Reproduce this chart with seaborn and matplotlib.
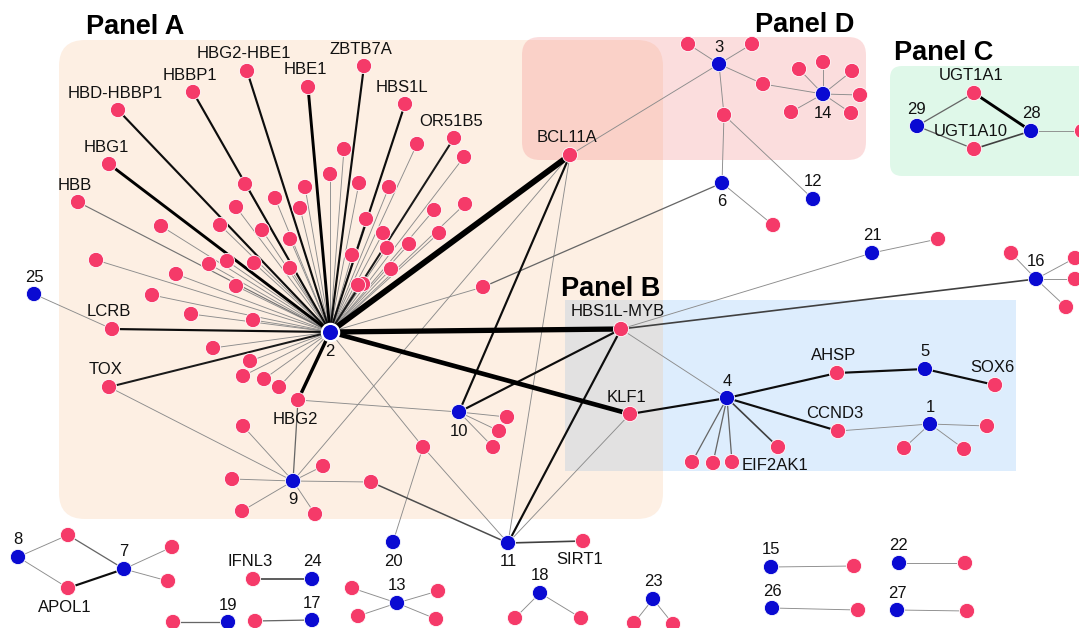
import matplotlib
matplotlib.use("Agg")
import matplotlib.pyplot as plt
import pandas as pd
import seaborn as sns
from matplotlib.patches import FancyBboxPatch, Rectangle

sns.set_theme(style="white")
plt.rcParams["font.family"] = ["Liberation Sans", "DejaVu Sans"]

# ---- cluster (module) nodes, numbered 1..29 -------------------------------
cluster_ids = [str(i) for i in range(1, 30)]
cluster_x = [930, 330, 719, 727, 925, 722, 124, 18, 293, 459, 508, 813, 397, 823, 771,
             1036, 312, 540, 228, 393, 872, 899, 653, 312, 34, 772, 897, 1031, 917]
cluster_y = [424, 332, 64, 398, 369, 183, 569, 557, 481, 412, 543, 199, 603, 94, 567,
             279, 620, 593, 622, 542, 253, 563, 599, 579, 294, 608, 610, 131, 126]
cluster_label_below = ["2", "9", "10", "11", "20", "6", "14"]

# ---- named gene nodes -----------------------------------------------------
gene_names = ["HBD-HBBP1", "HBBP1", "HBG2-HBE1", "HBE1", "ZBTB7A", "HBS1L", "OR51B5",
              "HBG1", "HBB", "BCL11A", "LCRB", "TOX", "HBG2", "HBS1L-MYB", "KLF1",
              "AHSP", "SOX6", "CCND3", "EIF2AK1", "UGT1A1", "UGT1A10", "IFNL3",
              "APOL1", "SIRT1"]
gene_x = [118, 193, 247, 308, 364, 405, 454, 109, 78, 570, 112, 109, 298, 621, 630,
          837, 995, 838, 778, 974, 974, 253, 68, 583]
gene_y = [110, 92, 71, 87, 66, 104, 138, 164, 202, 155, 329, 387, 400, 329, 414,
          373, 385, 431, 447, 93, 149, 579, 588, 541]
gene_label_below = ["HBG2", "EIF2AK1", "APOL1", "SIRT1"]

# ---- unnamed genes shared by several modules ------------------------------
bridge_ids = ["b1", "b2", "b3", "b4", "b5", "b6"]
bridge_x = [423, 483, 724, 763, 371, 68]
bridge_y = [447, 287, 115, 84, 482, 535]

# ---- unnamed genes attached to a single module ----------------------------
leaf_hub = (["2"] * 41 + ["9"] * 5 + ["10"] * 3 + ["3"] * 2 + ["14"] * 6 + ["6"]
            + ["4"] * 3 + ["1"] * 3 + ["16"] * 4 + ["21", "28"] + ["7"] * 2
            + ["19", "17"] + ["13"] * 4 + ["18"] * 2 + ["23"] * 2
            + ["15", "22", "26", "27"])
leaf_x = [245, 275, 305, 300, 330, 344, 236, 359, 220, 262, 290, 352, 227, 209, 254,
          290, 161, 96, 176, 236, 152, 191, 253, 213, 250, 243, 264, 279, 417, 464,
          389, 434, 465, 366, 383, 439, 387, 409, 391, 363, 358,
          243, 323, 232, 242, 315,
          507, 499, 493,
          688, 752,
          799, 823, 852, 860, 851, 791,
          773,
          692, 713, 732,
          987, 904, 964,
          1011, 1075, 1075, 1066,
          938, 1082,
          172, 168,
          173, 255,
          352, 358, 438, 436,
          515, 581,
          634, 673,
          854, 965, 858, 967]
leaf_y = [184, 198, 187, 208, 174, 149, 207, 183, 225, 230, 239, 255, 261, 264, 263,
          268, 226, 260, 274, 286, 295, 314, 320, 348, 361, 376, 379, 387, 144, 157,
          187, 210, 204, 219, 233, 233, 248, 244, 269, 284, 285,
          426, 466, 479, 511, 514,
          417, 431, 447,
          44, 44,
          69, 62, 71, 95, 113, 112,
          225,
          462, 463, 462,
          426, 448, 449,
          253, 258, 279, 307,
          239, 131,
          547, 581,
          622, 621,
          588, 616, 591, 619,
          618, 618,
          623, 624,
          566, 563, 610, 611]

# ---- weighted edges between named / module / bridge nodes -----------------
edge_src = ["2", "2", "2", "2", "2", "2", "2", "2", "2", "2", "2", "2", "2", "2", "2",
            "BCL11A", "BCL11A", "BCL11A", "BCL11A",
            "HBS1L-MYB", "HBS1L-MYB", "HBS1L-MYB", "HBS1L-MYB", "HBS1L-MYB",
            "KLF1", "KLF1",
            "2", "b1", "b1", "2", "b2", "6", "b3", "b3", "3", "b4",
            "HBG2", "HBG2", "TOX", "9", "b5", "11", "LCRB",
            "4", "4", "4", "AHSP", "5", "CCND3",
            "29", "29", "28", "28",
            "8", "8", "7", "7", "IFNL3"]
edge_dst = ["BCL11A", "HBS1L-MYB", "KLF1", "HBG2", "HBE1", "HBG1", "HBD-HBBP1", "HBBP1",
            "HBG2-HBE1", "ZBTB7A", "HBS1L", "OR51B5", "LCRB", "TOX", "HBB",
            "3", "9", "10", "11",
            "10", "11", "4", "16", "21",
            "4", "11",
            "b1", "11", "20", "b2", "6", "b3", "3", "12", "b4", "14",
            "9", "10", "9", "b5", "11", "SIRT1", "25",
            "AHSP", "CCND3", "EIF2AK1", "5", "SOX6", "1",
            "UGT1A1", "UGT1A10", "UGT1A1", "UGT1A10",
            "b6", "APOL1", "b6", "APOL1", "24"]
edge_w = [5, 4.5, 4, 3, 2.6, 2.6, 2, 2, 2, 2, 2, 1.9, 2, 1.9, 1.2,
          1, 1, 2, 1,
          2, 2, 1, 1.6, 1,
          2, 1,
          1, 1, 1, 1, 1.3, 1, 1, 1, 1, 1,
          1.3, 1, 1, 1, 1.5, 1.6, 1,
          2, 2, 1.6, 2, 2, 1,
          1.3, 1.3, 2.6, 1.6,
          1, 1, 1.3, 2, 1.6]
leaf_w = [1.3 if h in ("4", "19", "17") else 1 for h in leaf_hub]

# ---- panels ---------------------------------------------------------------
panel_names = ["Panel A", "Panel B", "Panel C", "Panel D"]
panel_xy = [(135, 27), (611, 289), (944, 53), (805, 25)]

# ---------------------------------------------------------------------------
nodes = pd.concat([
    pd.DataFrame({"id": cluster_ids, "x": cluster_x, "y": cluster_y, "kind": "module"}),
    pd.DataFrame({"id": gene_names, "x": gene_x, "y": gene_y, "kind": "gene"}),
    pd.DataFrame({"id": bridge_ids, "x": bridge_x, "y": bridge_y, "kind": "gene"}),
    pd.DataFrame({"id": [f"l{i}" for i in range(len(leaf_x))], "x": leaf_x,
                  "y": leaf_y, "kind": "gene"}),
], ignore_index=True)
pos = {r.id: (r.x, r.y) for r in nodes.itertuples()}

edges = pd.DataFrame({
    "src": edge_src + leaf_hub,
    "dst": edge_dst + [f"l{i}" for i in range(len(leaf_x))],
    "w": edge_w + leaf_w,
})

W, H = 1079, 628
fig = plt.figure(figsize=(W / 100, H / 100), dpi=100)
ax = fig.add_axes([0, 0, 1, 1])

# shaded panel regions
ax.add_patch(Rectangle((565, 300), 451, 171, facecolor=(0.59, 0.78, 0.98), alpha=0.32,
                       edgecolor="none", zorder=0))
ax.add_patch(FancyBboxPatch((59, 40), 604, 479,
                            boxstyle="round,pad=0,rounding_size=26",
                            facecolor=(0.97, 0.72, 0.50), alpha=0.22,
                            edgecolor="none", zorder=0))
ax.add_patch(FancyBboxPatch((522, 37), 344, 123,
                            boxstyle="round,pad=0,rounding_size=18",
                            facecolor=(0.95, 0.45, 0.45), alpha=0.24,
                            edgecolor="none", zorder=0))
ax.add_patch(FancyBboxPatch((890, 66), 210, 110,
                            boxstyle="round,pad=0,rounding_size=12",
                            facecolor=(0.55, 0.90, 0.70), alpha=0.28,
                            edgecolor="none", zorder=0))

for name, (tx, ty) in zip(panel_names, panel_xy):
    ax.text(tx, ty, name, fontsize=19.5, fontweight="bold", ha="center", va="center",
            color="black", zorder=5)


def edge_style(w):
    """Heavier edges are drawn wider and darker."""
    lw = 0.65 + (w - 1) * 0.9
    g = max(0.0, 0.55 - (w - 1) * 0.5)
    return lw, (g, g, g)


for e in edges.sort_values("w").itertuples():
    (x0, y0), (x1, y1) = pos[e.src], pos[e.dst]
    lw, c = edge_style(e.w)
    ax.plot([x0, x1], [y0, y1], color=c, lw=lw, solid_capstyle="round", zorder=1)

sns.scatterplot(data=nodes, x="x", y="y", hue="kind",
                palette={"module": "#0a0ad2", "gene": "#f53a69"},
                s=120, edgecolor="white", linewidth=0.6, legend=False, ax=ax, zorder=3)
sns.scatterplot(x=[pos["2"][0]], y=[pos["2"][1]], color="#0a0ad2", s=155,
                edgecolor="white", linewidth=1.6, legend=False, ax=ax, zorder=4)
ax.set_xlim(0, W)
ax.set_ylim(H, 0)
ax.axis("off")

for cid, x, y in zip(cluster_ids, cluster_x, cluster_y):
    dy = 19 if cid in cluster_label_below else -17
    ax.text(x, y + dy, cid, fontsize=12, ha="center", va="center", color="#111111",
            zorder=5)
for g, x, y in zip(gene_names, gene_x, gene_y):
    dy = 19 if g in gene_label_below else -17
    ax.text(x - 3, y + dy, g, fontsize=12, ha="center", va="center", color="#111111",
            zorder=5)

fig.savefig("out.png", dpi=100)
